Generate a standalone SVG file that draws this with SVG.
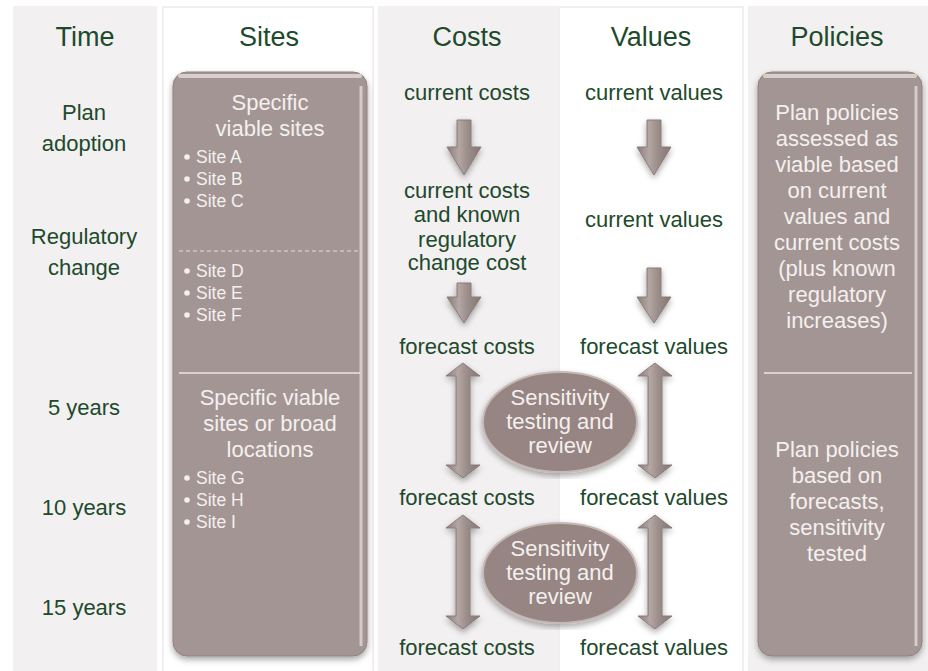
<svg xmlns="http://www.w3.org/2000/svg" width="928" height="671" viewBox="0 0 928 671">
<style>
.col-g{fill:#f2f0f1}
.col-w{fill:#ffffff;stroke:#ebe9ea;stroke-width:1.5}
.hdr{font-family:"Liberation Sans",Arial,sans-serif;font-size:27px;fill:#1d4a2b;text-anchor:middle}
.g{font-family:"Liberation Sans",Arial,sans-serif;font-size:22px;fill:#1d4a2b;text-anchor:middle}
.w{font-family:"Liberation Sans",Arial,sans-serif;font-size:22px;fill:#f4f0ef;text-anchor:middle}
.b{font-family:"Liberation Sans",Arial,sans-serif;font-size:17.5px;fill:#f4f0ef}
.box{fill:#a39593;stroke:#8f817e;stroke-width:1}
.arr{fill:url(#ag);stroke:#8a7c79;stroke-width:1}
.ell{fill:#968582;stroke:#c5b9b6;stroke-width:2}
.dot{fill:#f4f0ef}
</style>
<defs>
<filter id="sh" x="-10%" y="-5%" width="120%" height="112%">
<feDropShadow dx="0" dy="3" stdDeviation="3" flood-color="#000" flood-opacity="0.35"/>
</filter>
<linearGradient id="ag" x1="0" y1="0" x2="1" y2="0">
<stop offset="0" stop-color="#8a7b78"/>
<stop offset="0.35" stop-color="#b3a6a3"/>
<stop offset="0.6" stop-color="#9c8e8b"/>
<stop offset="1" stop-color="#85766f"/>
</linearGradient>
</defs>

<g id="columns">
<rect class="col-g" x="13" y="6" width="144" height="665"/>
<rect class="col-w" x="163" y="7" width="210" height="670"/>
<rect class="col-g" x="378" y="6" width="180" height="665"/>
<rect class="col-w" x="559" y="7" width="184" height="670"/>
<rect class="col-g" x="748" y="6" width="180" height="665"/>
</g>

<g id="headers">
<text class="hdr" x="85" y="46">Time</text>
<text class="hdr" x="269" y="46">Sites</text>
<text class="hdr" x="467" y="46">Costs</text>
<text class="hdr" x="651" y="46">Values</text>
<text class="hdr" x="837" y="46">Policies</text>
</g>

<g id="time">
<text class="g" x="84" y="120">Plan</text>
<text class="g" x="84" y="151">adoption</text>
<text class="g" x="84" y="244">Regulatory</text>
<text class="g" x="84" y="275">change</text>
<text class="g" x="84" y="415">5 years</text>
<text class="g" x="84" y="515">10 years</text>
<text class="g" x="84" y="615">15 years</text>
</g>

<g id="sites">
<rect class="box" x="173" y="72" width="194" height="584" rx="14" filter="url(#sh)"/>
<path d="M180,76 H360" stroke="#d8cecb" stroke-width="4" stroke-linecap="round"/>
<path d="M361,86 V646" stroke="#d6cbc8" stroke-width="3"/>
<line x1="179" y1="251" x2="360" y2="251" stroke="#e6dedc" stroke-width="1.2" stroke-dasharray="4,3"/>
<line x1="179" y1="373" x2="360" y2="373" stroke="#ede6e4" stroke-width="1.5"/>
<text class="w" x="270" y="110">Specific</text>
<text class="w" x="270" y="136">viable sites</text>
<g class="b">
<circle class="dot" cx="187" cy="157" r="2.8"/><text x="196" y="163">Site A</text>
<circle class="dot" cx="187" cy="179" r="2.8"/><text x="196" y="185">Site B</text>
<circle class="dot" cx="187" cy="201" r="2.8"/><text x="196" y="207">Site C</text>
<circle class="dot" cx="187" cy="271" r="2.8"/><text x="196" y="277">Site D</text>
<circle class="dot" cx="187" cy="293" r="2.8"/><text x="196" y="299">Site E</text>
<circle class="dot" cx="187" cy="315" r="2.8"/><text x="196" y="321">Site F</text>
</g>
<text class="w" x="270" y="405">Specific viable</text>
<text class="w" x="270" y="431">sites or broad</text>
<text class="w" x="270" y="457">locations</text>
<g class="b">
<circle class="dot" cx="187" cy="478" r="2.8"/><text x="196" y="484">Site G</text>
<circle class="dot" cx="187" cy="500" r="2.8"/><text x="196" y="506">Site H</text>
<circle class="dot" cx="187" cy="522" r="2.8"/><text x="196" y="528">Site I</text>
</g>
</g>

<g id="costs">
<text class="g" x="467" y="100">current costs</text>
<text class="g" x="467" y="198">current costs</text>
<text class="g" x="467" y="222">and known</text>
<text class="g" x="467" y="247">regulatory</text>
<text class="g" x="467" y="270">change cost</text>
<text class="g" x="467" y="354">forecast costs</text>
<text class="g" x="467" y="505">forecast costs</text>
<text class="g" x="467" y="655">forecast costs</text>
</g>

<g id="values">
<text class="g" x="654" y="100">current values</text>
<text class="g" x="654" y="227">current values</text>
<text class="g" x="654" y="354">forecast values</text>
<text class="g" x="654" y="505">forecast values</text>
<text class="g" x="654" y="655">forecast values</text>
</g>

<g id="sensitivity1">
<ellipse class="ell" cx="560" cy="422" rx="77" ry="50" filter="url(#sh)"/>
<text class="w" x="560" y="405">Sensitivity</text>
<text class="w" x="560" y="429">testing and</text>
<text class="w" x="560" y="453">review</text>
</g>

<g id="sensitivity2">
<ellipse class="ell" cx="560" cy="573" rx="77" ry="50" filter="url(#sh)"/>
<text class="w" x="560" y="556">Sensitivity</text>
<text class="w" x="560" y="580">testing and</text>
<text class="w" x="560" y="604">review</text>
</g>

<g id="policies">
<rect class="box" x="758" y="72" width="164" height="584" rx="14" filter="url(#sh)"/>
<path d="M765,76 H915" stroke="#d8cecb" stroke-width="4" stroke-linecap="round"/>
<path d="M916,86 V646" stroke="#d6cbc8" stroke-width="3"/>
<line x1="764" y1="373" x2="912" y2="373" stroke="#ede6e4" stroke-width="1.5"/>
<text class="w" x="837" y="120">Plan policies</text>
<text class="w" x="837" y="146">assessed as</text>
<text class="w" x="837" y="172">viable based</text>
<text class="w" x="837" y="198">on current</text>
<text class="w" x="837" y="224">values and</text>
<text class="w" x="837" y="250">current costs</text>
<text class="w" x="837" y="276">(plus known</text>
<text class="w" x="837" y="302">regulatory</text>
<text class="w" x="837" y="328">increases)</text>
<text class="w" x="837" y="457">Plan policies</text>
<text class="w" x="837" y="483">based on</text>
<text class="w" x="837" y="509">forecasts,</text>
<text class="w" x="837" y="535">sensitivity</text>
<text class="w" x="837" y="561">tested</text>
</g>

<g id="connectors" filter="url(#sh)">
<path class="arr" d="M457,120 H471 V147 H481 L464,175 L447,147 H457 Z"/>
<path class="arr" d="M457,283 H471 V297 H481 L464,323 L447,297 H457 Z"/>
<path class="arr" d="M647,120 H661 V147 H671 L654,175 L637,147 H647 Z"/>
<path class="arr" d="M647,268 H661 V297 H671 L654,323 L637,297 H647 Z"/>
<path class="arr" d="M463,363 L480,376 H470 V465 H480 L463,478 L446,465 H456 V376 H446 Z"/>
<path class="arr" d="M655,363 L672,376 H662 V465 H672 L655,478 L638,465 H648 V376 H638 Z"/>
<path class="arr" d="M463,515 L480,528 H470 V616 H480 L463,629 L446,616 H456 V528 H446 Z"/>
<path class="arr" d="M655,515 L672,528 H662 V616 H672 L655,629 L638,616 H648 V528 H638 Z"/>
</g>
</svg>
